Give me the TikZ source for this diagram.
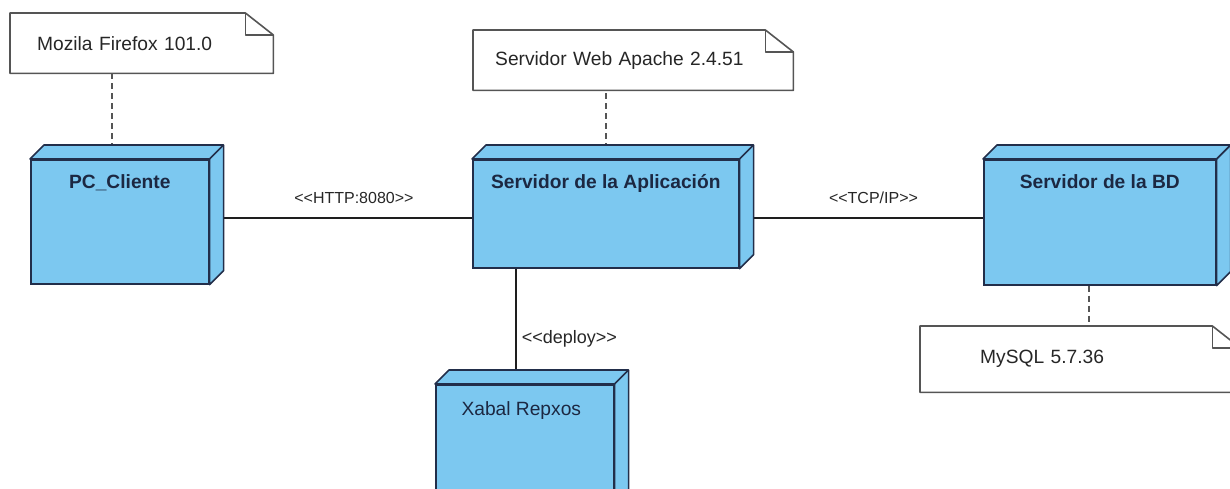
\documentclass[tikz,border=0pt]{standalone}
\usepackage{fontspec}
\setmainfont{Liberation Sans}
\usetikzlibrary{calc}

\definecolor{nodefill}{RGB}{124,200,240}
\definecolor{nodeline}{RGB}{34,46,74}
\definecolor{nodetext}{RGB}{28,40,66}
\definecolor{noteline}{RGB}{85,85,85}
\definecolor{notetext}{RGB}{38,38,38}
\definecolor{linkline}{RGB}{30,30,30}

\newcommand{\nodecube}[1]{\draw[cubeface] (#1.north west) -- ++(14,-14) -- ($(#1.north east)+(14,-14)$) -- ($(#1.south east)+(14,-14)$) -- (#1.south east) -- (#1.north east) -- cycle; \draw[cubeface] (#1.north east) -- ++(14,-14);}
\newcommand{\noteshape}[1]{\draw[noteedge] (#1.north west) -- ($(#1.north east)+(-28,0)$) -- ($(#1.north east)+(0,22)$) -- (#1.south east) -- (#1.south west) -- cycle; \draw[noteedge] ($(#1.north east)+(-28,0)$) -- ($(#1.north east)+(-28,22)$) -- ($(#1.north east)+(0,22)$);}

\tikzset{
	devnode/.style={draw=nodeline, fill=nodefill, line width=1.6pt, anchor=north west, inner sep=0pt},
	cubeface/.style={draw=nodeline, fill=nodefill, line width=1.6pt, line join=round},
	devtitle/.style={font=\fontsize{19.2pt}{23pt}\selectfont\bfseries, text=nodetext, anchor=base, yshift=-29pt},
	devplain/.style={font=\fontsize{19.2pt}{23pt}\selectfont, text=nodetext, anchor=base west, xshift=23pt, yshift=-31pt},
	note/.style={anchor=north west, minimum height=60pt, inner ysep=0pt, align=left, font=\fontsize{19.2pt}{23pt}\selectfont, text=notetext},
	noteedge/.style={draw=noteline, line width=1.6pt, line join=round},
	link/.style={draw=linkline, line width=1.4pt},
	notelink/.style={draw=noteline, line width=1.6pt, dash pattern=on 6pt off 4pt},
	linklabel/.style={font=\fontsize{16pt}{19pt}\selectfont, text=notetext}
}

\begin{document}
\begin{tikzpicture}[x=1pt, y=-1pt]
		%%%%% START %%%%%
		\useasboundingbox (0,0) rectangle (1230,489);
		\clip (0,0) rectangle (1230,489);
		
		\node[devnode, minimum width=178pt, minimum height=124pt, label={[devtitle, name=clientetitle]north:PC\_Cliente}] (cliente) at (30,159) {};
		\node[devnode, minimum width=266pt, minimum height=108pt, label={[devtitle, name=apptitle]north:Servidor de la Aplicación}] (app) at (472,159) {};
		\node[devnode, minimum width=232pt, minimum height=125pt, label={[devtitle, name=bdtitle]north:Servidor de la BD}] (bd) at (983,159) {};
		\node[devnode, minimum width=178pt, minimum height=120pt, label={[devplain, name=xabaltitle]north west:Xabal Repxos}] (xabal) at (435,384) {};
		
		\node[note, inner xsep=27pt, text width=209pt] (firefox) at (10,13) {Mozila Firefox 101.0};
		\node[note, inner xsep=22pt, text width=276pt] (apache) at (473,30) {Servidor Web Apache 2.4.51};
		\node[note, inner xsep=60pt, text width=200pt, minimum height=66pt] (mysql) at (920,326) {MySQL 5.7.36};
		
		\draw[link] ([yshift=-4pt]app.west -| cliente.east) -- node[linklabel, pos=0.55, above=10pt] (http) {<{}<HTTP:8080>{}>} ([yshift=-4pt]app.west);
		\draw[link] ([yshift=-4pt]app.east) -- node[linklabel, pos=0.55, above=10pt] (tcp) {<{}<TCP/IP>{}>} ([yshift=-4pt]app.east -| bd.west);
		\draw[link] ([xshift=-90pt]app.south) -- node[linklabel, pos=0.61, right=2pt, font=\fontsize{18pt}{21pt}\selectfont] (deploy) {<{}<deploy>{}>} ([xshift=-90pt]app.south |- xabal.north);
		
		\draw[notelink] ([xshift=-8pt]cliente.north) -- ([xshift=-8pt]cliente.north |- firefox.south);
		\draw[notelink] (app.north) -- (app.north |- apache.south);
		\draw[notelink] ([xshift=-11pt]bd.south) -- ([xshift=-11pt]bd.south |- mysql.north);
		
		\nodecube{cliente}
		\nodecube{app}
		\nodecube{bd}
		\nodecube{xabal}
		
		\noteshape{firefox}
		\noteshape{apache}
		\noteshape{mysql}
		
		%%%%% END %%%%%
\end{tikzpicture}
\end{document}
